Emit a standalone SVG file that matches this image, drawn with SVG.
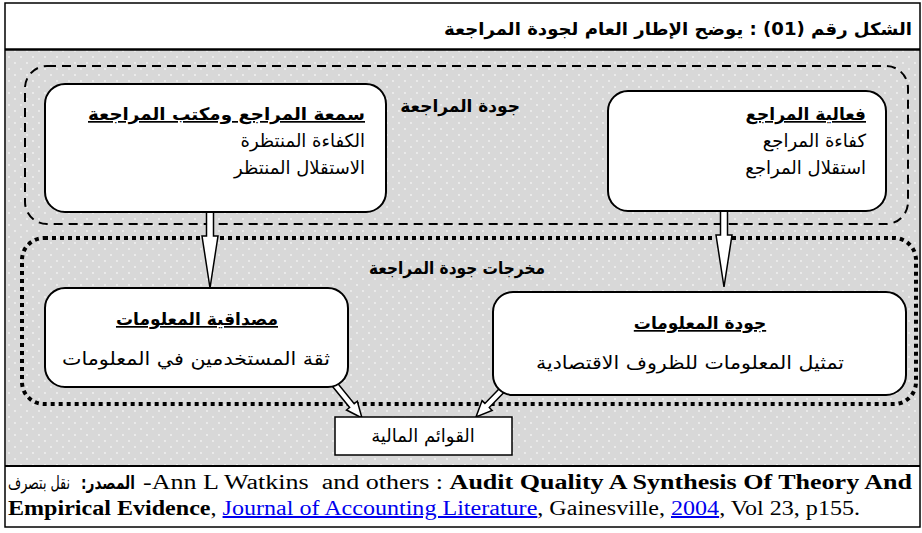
<svg xmlns="http://www.w3.org/2000/svg" width="922" height="533" viewBox="0 0 922 533">
<defs>
<pattern id="dots" width="12" height="12" patternUnits="userSpaceOnUse">
<rect width="12" height="12" fill="#d8d8d8"/>
<circle cx="3" cy="3" r="0.9" fill="#f4f4f4"/>
<circle cx="9" cy="9" r="0.9" fill="#f4f4f4"/>
</pattern>
</defs>
<style>
.box{fill:#fff;stroke:#000;stroke-width:2}
.ar{font-family:"DejaVu Sans","Noto Sans",sans-serif;font-size:18px;fill:#000}
.arb{font-family:"DejaVu Sans","Noto Sans",sans-serif;font-size:17px;font-weight:bold;fill:#000}
.u{text-decoration:underline}
.arrow{fill:#fff;stroke:#000;stroke-width:1.5;stroke-linejoin:miter}
.en{font-family:"Liberation Serif","Times New Roman",serif;font-size:20px;fill:#000}
.link{fill:#0000ee;text-decoration:underline}
</style>
<rect x="5" y="3" width="915" height="524" fill="#fff" stroke="#000" stroke-width="1.5"/>
<rect x="6" y="50" width="913" height="416" fill="url(#dots)"/>
<line x1="5" y1="49.5" x2="920" y2="49.5" stroke="#000" stroke-width="2.5"/>
<line x1="5" y1="466" x2="920" y2="466" stroke="#000" stroke-width="2"/>
<g id="title">
<text class="arb" x="912" y="35" text-anchor="end" font-size="21" textLength="468" lengthAdjust="spacingAndGlyphs">الشكل رقم (01) : يوضح الإطار العام لجودة المراجعة</text>
</g>
<g id="group-quality">
<rect x="25" y="66" width="883" height="158" rx="22" fill="none" stroke="#000" stroke-width="2" stroke-dasharray="9 6"/>
<text class="arb" x="520" y="112" text-anchor="end">جودة المراجعة</text>
</g>
<g id="group-outputs">
<rect x="22" y="238" width="894" height="166" rx="22" fill="none" stroke="#000" stroke-width="4" stroke-dasharray="4 4"/>
<text class="arb" x="545" y="274" text-anchor="end" textLength="176" lengthAdjust="spacingAndGlyphs">مخرجات جودة المراجعة</text>
</g>
<g id="connectors">
<polygon class="arrow" points="206.5,212 213.5,212 213.5,236 218,236 210,288 202,236 206.5,236"/>
<polygon class="arrow" points="720.5,210 727.5,210 727.5,235 732,235 724,287 716,235 720.5,235"/>
<polygon class="arrow" points="330.5,384 349.6,407.5 346.5,410 362,418 357.3,401.2 354.2,403.7 335.2,380.2"/>
<polygon class="arrow" points="503.8,383.9 484.9,403.4 482.1,400.6 476,417 492.1,410.4 489.3,407.6 508.2,388.1"/>
</g>
<g id="node-effectiveness">
<rect class="box" x="608" y="91" width="278" height="120" rx="20"/>
<text class="arb u" x="866" y="120" text-anchor="end" font-size="16">فعالية المراجع</text>
<text class="ar" x="866" y="147" text-anchor="end">كفاءة المراجع</text>
<text class="ar" x="866" y="174" text-anchor="end">استقلال المراجع</text>
</g>
<g id="node-reputation">
<rect class="box" x="45" y="84" width="341" height="128" rx="20"/>
<text class="arb u" x="365" y="120" text-anchor="end" font-size="18" textLength="277" lengthAdjust="spacingAndGlyphs">سمعة المراجع ومكتب المراجعة</text>
<text class="ar" x="365" y="147" text-anchor="end" font-size="19">الكفاءة المنتظرة</text>
<text class="ar" x="365" y="174" text-anchor="end" font-size="19">الاستقلال المنتظر</text>
</g>
<g id="node-credibility">
<rect class="box" x="45" y="288" width="303" height="99" rx="20"/>
<text class="arb u" x="197" y="325" text-anchor="middle" font-size="18">مصداقية المعلومات</text>
<text class="ar" x="196" y="365" text-anchor="middle" font-size="20" textLength="268" lengthAdjust="spacingAndGlyphs">ثقة المستخدمين في المعلومات</text>
</g>
<g id="node-infoquality">
<rect class="box" x="493" y="292" width="413" height="103" rx="20"/>
<text class="arb u" x="700" y="329" text-anchor="middle" font-size="18">جودة المعلومات</text>
<text class="ar" x="690" y="369" text-anchor="middle" font-size="20" textLength="308" lengthAdjust="spacingAndGlyphs">تمثيل المعلومات للظروف الاقتصادية</text>
</g>
<g id="node-statements">
<rect x="335" y="417" width="177" height="38" fill="#fff" stroke="#000" stroke-width="1.5"/>
<text class="ar" x="423" y="442" text-anchor="middle">القوائم المالية</text>
</g>
<g id="citation">
<text class="ar" x="8" y="489" font-size="14" textLength="62" lengthAdjust="spacingAndGlyphs">نقل بتصرف</text>
<text class="ar" x="135" y="489" font-size="15" font-weight="bold" text-anchor="end" textLength="54" lengthAdjust="spacingAndGlyphs">المصدر:&#x200F;</text>
<text class="en" x="143" y="489" textLength="769" lengthAdjust="spacingAndGlyphs" xml:space="preserve">-Ann L Watkins  and others : <tspan font-weight="bold">Audit Quality A Synthesis Of Theory And</tspan></text>
<text class="en" x="8" y="515" textLength="852" lengthAdjust="spacingAndGlyphs"><tspan font-weight="bold">Empirical Evidence</tspan>, <tspan class="link">Journal of Accounting Literature</tspan>, Gainesville, <tspan class="link">2004</tspan>, Vol 23, p155.</text>
</g>
</svg>
